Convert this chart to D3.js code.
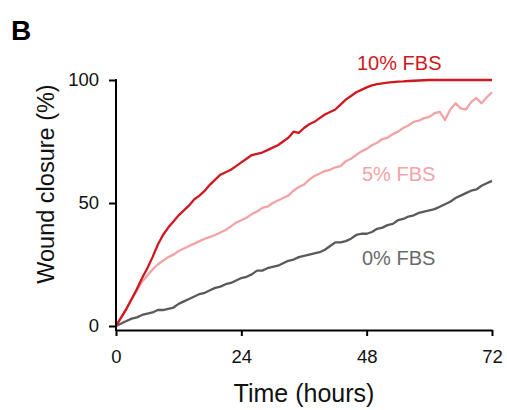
<!DOCTYPE html>
<html>
<head>
<meta charset="utf-8">
<script src="https://cdn.jsdelivr.net/npm/d3@7/dist/d3.min.js"></script>
<style>
  html, body { margin: 0; padding: 0; background: #fff; }
  svg { display: block; font-family: Arial, "Liberation Sans", sans-serif; }
</style>
</head>
<body>
<svg id="chart" width="507" height="410"></svg>
<script>
// Time points (hours)
const hours = d3.range(0, 73);
// Wound closure (%) per series
const fbs10 = [0,3.5,7,11,15,19.5,23.5,28,33,37,40,42.5,45,47,49,51.5,53,55,57.5,59.5,
  61.5,62.5,63.5,65,66.5,68,69.5,70,70.5,71.5,72.5,73.5,75,76.5,79,78.5,80.5,82,83,84.5,
  86,87,88,90,92,93.5,95,96,97,97.8,98.3,98.6,98.9,99.1,99.3,99.4,99.6,99.7,99.8,99.9,
  100,100,100,100,100,100,100,100,100,100,100,100,100];
const fbs5 = [0,3.5,7,11,14.5,18,20.5,23,25,26.5,28,29,30.5,31.5,32.5,33.5,34.5,35.5,36.2,37,
  38,39,40.5,42,43,44,45.5,46.5,48,48.5,50,51,52,53,55,56.5,57.5,59.5,61,62,
  63,63.5,64.5,65,67,68,69.5,71,72,73.5,74.5,76,76.5,78,79,80.5,81.5,83,83.5,84.5,
  85,86.5,87,83.7,88,90.5,88.5,88,91,92.7,90.5,93,95];
const fbs0 = [0,1,2,3,3.5,4.5,5,5.5,6.5,6.5,7,7.5,9,10,11,12,13,13.5,14.5,15.5,
  16,17,17.5,18.5,19.5,20,21,22.5,22.5,23.5,24,24.5,25.5,26.5,27,28,28.5,29,29.5,30,
  31,32.5,34,34,34.5,35.5,37,37.5,37.5,38.2,39.5,40,41,41.5,43,43.5,44.5,45,46,46.5,
  47,47.5,48.5,49.5,50.5,52,53,54,55,55.5,57,58,59];
const seriesNames = ["10% FBS", "5% FBS", "0% FBS"];
const seriesColors = ["#d01820", "#f2a3a6", "#5a5a5a"];
const xTicks = [0, 24, 48, 72];
const yTicks = [0, 50, 100];

const svg = d3.select("#chart");
const x = d3.scaleLinear().domain([0, 72]).range([116, 492]);
const y = d3.scaleLinear().domain([0, 100]).range([326, 80]);
const xAxisY = 330;

// Lines
const line = d3.line().x((d, i) => x(hours[i])).y(d => y(d));
const data = [fbs10, fbs5, fbs0];
// draw gray first, then pink, then red on top
[2, 1, 0].forEach(k => {
  svg.append("path")
    .datum(data[k])
    .attr("fill", "none")
    .attr("stroke", seriesColors[k])
    .attr("stroke-width", 2.3)
    .attr("stroke-linejoin", "round")
    .attr("d", line);
});

// Y axis
const yAxis = svg.append("g")
  .attr("transform", "translate(116,0)")
  .call(d3.axisLeft(y).tickValues(yTicks).tickSize(7).tickSizeOuter(0).tickPadding(10));
yAxis.select(".domain").remove();
yAxis.selectAll(".tick line").attr("stroke", "#000").attr("stroke-width", 2);
yAxis.selectAll(".tick text").attr("font-size", 18.5).attr("fill", "#111")
  .attr("font-family", "Arial, 'Liberation Sans', sans-serif");
yAxis.append("line")
  .attr("x1", 0).attr("x2", 0)
  .attr("y1", y(100) - 1).attr("y2", xAxisY + 1)
  .attr("stroke", "#000").attr("stroke-width", 2);

// X axis
const xAxis = svg.append("g")
  .attr("transform", `translate(0,${xAxisY})`)
  .call(d3.axisBottom(x).tickValues(xTicks).tickSize(6).tickSizeOuter(0).tickPadding(14));
xAxis.select(".domain").attr("stroke", "#000").attr("stroke-width", 2);
xAxis.selectAll(".tick line").attr("stroke", "#000").attr("stroke-width", 2);
xAxis.selectAll(".tick text").attr("font-size", 18.5).attr("fill", "#111")
  .attr("font-family", "Arial, 'Liberation Sans', sans-serif");

// Axis titles
svg.append("text")
  .attr("x", 304).attr("y", 402)
  .attr("text-anchor", "middle")
  .attr("font-size", 25).attr("fill", "#111")
  .text("Time (hours)");
svg.append("text")
  .attr("transform", "translate(54,184) rotate(-90)")
  .attr("text-anchor", "middle")
  .attr("font-size", 23.5).attr("fill", "#111")
  .text("Wound closure (%)");

// Panel letter
svg.append("text")
  .attr("x", 11).attr("y", 40)
  .attr("font-size", 28).attr("font-weight", "bold").attr("fill", "#000")
  .text("B");

// Series labels
const labelPos = [[357, 70], [362, 181], [362, 265]];
seriesNames.forEach((n, k) => {
  svg.append("text")
    .attr("x", labelPos[k][0]).attr("y", labelPos[k][1])
    .attr("font-size", 20).attr("fill", k === 2 ? "#6a6a6a" : seriesColors[k])
    .text(n);
});
</script>
</body>
</html>
